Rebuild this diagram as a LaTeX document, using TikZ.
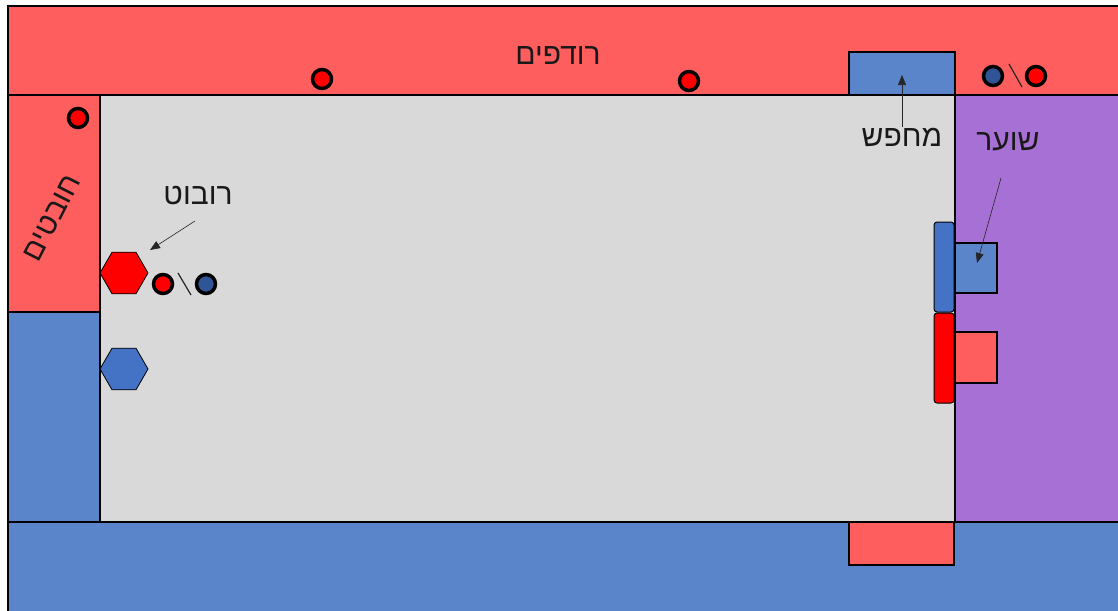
\documentclass[tikz,border=0pt]{standalone}
\usepackage{fontspec}
\setmainfont{Liberation Sans}
\newfontfamily\hebfont[Script=Hebrew]{Liberation Sans}
\TeXXeTstate=1
\usetikzlibrary{shapes.geometric,arrows.meta}
\definecolor{zred}{HTML}{FF5E5E}
\definecolor{zblue}{HTML}{5B85CB}
\definecolor{zpurple}{HTML}{A770D4}
\definecolor{zgray}{HTML}{D9D9D9}
\definecolor{hexblue}{HTML}{4472C4}
\definecolor{ballblue}{HTML}{2F5597}
\definecolor{pure}{HTML}{FF0000}
\tikzset{
  zone/.style={draw=black, line width=1.5pt},
  box/.style={draw=black, line width=1.2pt},
  ball/.style={circle, draw=black, line width=3.5pt, minimum size=19pt, inner sep=0pt},
  hexbot/.style={regular polygon, regular polygon sides=6, minimum size=48pt, inner sep=0pt, draw=black, line width=0.8pt},
  lbl/.style={font=\hebfont\fontsize{30}{34}\selectfont, inner sep=1pt, text=black!90},
  arr/.style={-{Triangle[length=10pt,width=8pt]}, line width=0.6pt, draw=black!85},
  slashline/.style={line width=1.2pt, draw=black!85},
  goalbar/.style={draw=black, line width=1pt, rounded corners=3pt}
}
\begin{document}
\begin{tikzpicture}[x=1pt,y=-1pt]
\useasboundingbox (0,0) rectangle (1118,610);
\clip (0,0) rectangle (1118,610);
% zones
\filldraw[zone, fill=zred] (8,6) rectangle (1130,95);
\filldraw[zone, fill=zblue] (8,522) rectangle (1130,620);
\filldraw[zone, fill=zred] (8,95) rectangle (100,312);
\filldraw[zone, fill=zblue] (8,312) rectangle (100,522);
\filldraw[zone, fill=zgray] (100,95) rectangle (955,522);
\filldraw[zone, fill=zpurple] (955,95) rectangle (1130,522);
% searcher / bottom box
\filldraw[box, fill=zblue] (849,52) rectangle (955,95);
\filldraw[box, fill=zred] (849,522) rectangle (954,565);
% goal
\filldraw[box, fill=zblue] (955,243) rectangle (997,293);
\filldraw[box, fill=zred] (955,332) rectangle (997,383);
\filldraw[goalbar, fill=hexblue] (934,222) rectangle (954,312);
\filldraw[goalbar, fill=pure] (934,313) rectangle (954,403);
% balls
\node[ball, fill=pure] (b1) at (322,79) {};
\node[ball, fill=pure] (b2) at (689,81) {};
\node[ball, fill=ballblue] (b3) at (993,76) {};
\node[ball, fill=pure] (b4) at (1036,76) {};
\node[ball, fill=pure] (b5) at (78,118) {};
\node[ball, fill=pure] (b6) at (163,284) {};
\node[ball, fill=ballblue] (b7) at (206,284) {};
\draw[slashline] (b3) ++(16,-12) coordinate (s1a) -- ++(13,23) coordinate (s1b);
\draw[slashline] (b6) ++(15,-11) coordinate (s2a) -- ++(13,22) coordinate (s2b);
% robots
\node[hexbot, fill=pure] (robotR) at (124,273) {};
\node[hexbot, fill=hexblue] (robotB) at (124,369) {};
% labels
\node[lbl] (chasers) at (558,56) {\beginR רודפים\endR};
\node[lbl, rotate=63] (beaters) at (52,218) {\beginR חובטים\endR};
\node[lbl] (robotlbl) at (198,196) {\beginR רובוט\endR};
\node[lbl] (seeker) at (902,137) {\beginR מחפש\endR};
\node[lbl] (keeper) at (1008,142) {\beginR שוער\endR};
% arrows
\coordinate (robotTail) at (195,221);
\coordinate (robotTip) at (150,250);
\draw[arr] (robotTail) -- (robotTip);
\coordinate (seekTip) at (902,75);
\draw[arr] (seeker.north) -- (seekTip);
\coordinate (keepTail) at (1001,178);
\coordinate (keepTip) at (977,263);
\draw[arr] (keepTail) -- (keepTip);
\end{tikzpicture}
\end{document}
